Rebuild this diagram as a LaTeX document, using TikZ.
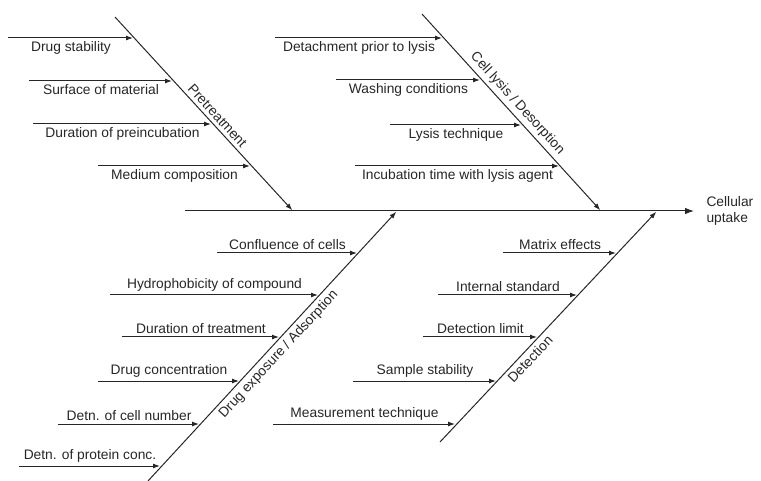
\documentclass[tikz,border=0pt]{standalone}
\usepackage{fontspec}
\setmainfont{Liberation Sans}
\usepackage{tikz}
\usetikzlibrary{positioning,arrows.meta}

\begin{document}
\begin{tikzpicture}[x=1pt, y=-1pt, line width=1pt, color=black!85,
   shorten >=1pt, >={Latex[length=7pt,width=5pt]},
   font=\fontsize{13.8}{16}\selectfont,
   spine/.style={-{Latex[length=9pt,width=6.5pt]}},
   bone/.style={sloped, pos=#1}]
   \useasboundingbox (0,0) rectangle (761,481);

   % spine and effect
   \coordinate (s0) at (185,211);
   \coordinate (s1) at (695,211);
   \node[right=11pt of s1, align=left, inner sep=0pt] (out) {Cellular\\uptake};

   % main bones
   \coordinate (p0) at (115,17);  \coordinate (p1) at (293,211);
   \coordinate (c0) at (422,14);  \coordinate (c1) at (601,211);
   \coordinate (d0) at (148,481); \coordinate (d1) at (397,211);
   \coordinate (e0) at (440,442); \coordinate (e1) at (657,211);

   % pretreatment causes
   \coordinate (p1s) at (8,38);   \coordinate (p1e) at (134,38);
   \coordinate (p2s) at (29,81);  \coordinate (p2e) at (173,81);
   \coordinate (p3s) at (33,124); \coordinate (p3e) at (212,124);
   \coordinate (p4s) at (98,166); \coordinate (p4e) at (251,166);

   % cell lysis causes
   \coordinate (c1s) at (275,38);  \coordinate (c1e) at (443,38);
   \coordinate (c2s) at (336,80);  \coordinate (c2e) at (481,80);
   \coordinate (c3s) at (390,125); \coordinate (c3e) at (522,125);
   \coordinate (c4s) at (355,166); \coordinate (c4e) at (560,166);

   % drug exposure causes
   \coordinate (d1s) at (217,253); \coordinate (d1e) at (358,253);
   \coordinate (d2s) at (110,295); \coordinate (d2e) at (319,295);
   \coordinate (d3s) at (122,337); \coordinate (d3e) at (280,337);
   \coordinate (d4s) at (98,381);  \coordinate (d4e) at (240,381);
   \coordinate (d5s) at (58,424);  \coordinate (d5e) at (200,424);
   \coordinate (d6s) at (19,466);  \coordinate (d6e) at (161,466);

   % detection causes
   \coordinate (e1s) at (503,253); \coordinate (e1e) at (617,253);
   \coordinate (e2s) at (438,295); \coordinate (e2e) at (578,295);
   \coordinate (e3s) at (423,337); \coordinate (e3e) at (538,337);
   \coordinate (e4s) at (353,381); \coordinate (e4e) at (497,381);
   \coordinate (e5s) at (273,424); \coordinate (e5e) at (456,424);

   \draw[spine] (s0) -- (s1);

   \path[->]
      (p0) edge node[bone=.54, above] {Pretreatment} (p1)
      (c0) edge node[bone=.49, above] {Cell lysis / Desorption} (c1)
      (d0) edge node[bone=.495, below] {Drug exposure / Adsorption} (d1)
      (e0) edge node[bone=.385, below] {Detection} (e1);

   \path[->]
      (p1s) edge node[below] {Drug stability} (p1e)
      (p2s) edge node[below] {Surface of material} (p2e)
      (p3s) edge node[below] {Duration of preincubation} (p3e)
      (p4s) edge node[below] {Medium composition} (p4e)
      (c1s) edge node[below] {Detachment prior to lysis} (c1e)
      (c2s) edge node[below] {Washing conditions} (c2e)
      (c3s) edge node[below] {Lysis technique} (c3e)
      (c4s) edge node[below] {Incubation time with lysis agent} (c4e);

   \path[->]
      (d1s) edge node[above] {Confluence of cells} (d1e)
      (d2s) edge node[above] {Hydrophobicity of compound} (d2e)
      (d3s) edge node[above] {Duration of treatment} (d3e)
      (d4s) edge node[above] {Drug concentration} (d4e)
      (d5s) edge node[above] {Detn. of cell number} (d5e)
      (d6s) edge node[above] {Detn. of protein conc.} (d6e)
      (e1s) edge node[above] {Matrix effects} (e1e)
      (e2s) edge node[above] {Internal standard} (e2e)
      (e3s) edge node[above] {Detection limit} (e3e)
      (e4s) edge node[above] {Sample stability} (e4e)
      (e5s) edge node[above] {Measurement technique} (e5e);
\end{tikzpicture}
\end{document}
